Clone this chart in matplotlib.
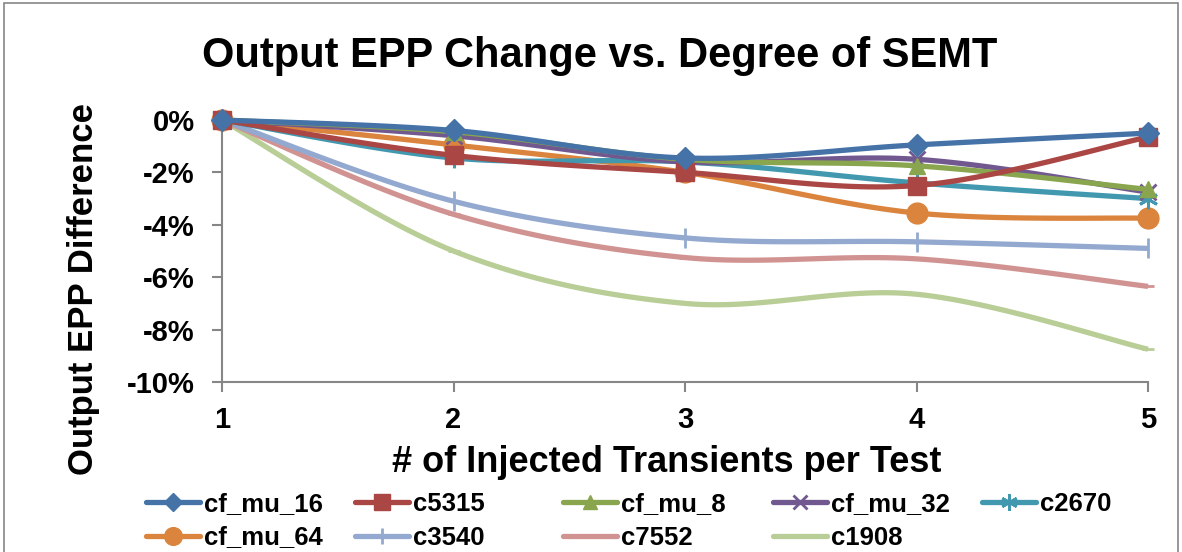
import numpy as np
import matplotlib

matplotlib.use("Agg")
import matplotlib.pyplot as plt
from matplotlib.patches import Rectangle
from matplotlib.ticker import FuncFormatter

plt.rcParams["font.family"] = ["Liberation Sans", "DejaVu Sans"]

injected = [1, 2, 3, 4, 5]
cf_mu_16 = [0.0, -0.4, -1.45, -0.95, -0.5]
c5315 = [0.0, -1.35, -2.0, -2.5, -0.65]
cf_mu_8 = [0.0, -0.45, -1.5, -1.75, -2.65]
cf_mu_32 = [0.0, -0.6, -1.6, -1.5, -2.75]
c2670 = [0.0, -1.45, -1.6, -2.4, -3.0]
cf_mu_64 = [0.0, -0.95, -2.0, -3.55, -3.75]
c3540 = [0.0, -3.1, -4.5, -4.65, -4.9]
c7552 = [0.0, -3.6, -5.25, -5.3, -6.35]
c1908 = [0.0, -5.0, -7.0, -6.65, -8.75]

series = [
    ("cf_mu_16", cf_mu_16, "#4572A7", "D", 11),
    ("c5315", c5315, "#AA4643", "s", 13),
    ("cf_mu_8", cf_mu_8, "#89A54E", "^", 12),
    ("cf_mu_32", cf_mu_32, "#71588F", "x", 12),
    ("c2670", c2670, "#4198AF", (6, 2, 0), 14),
    ("cf_mu_64", cf_mu_64, "#DB843D", "o", 15),
    ("c3540", c3540, "#93A9CF", "|", 14),
    ("c7552", c7552, "#D19392", "_", 9),
    ("c1908", c1908, "#B9CD96", "_", 9),
]

# legend layout: columns as in the Excel legend
legend_cols = [["cf_mu_16", "cf_mu_64"], ["c5315", "c3540"], ["cf_mu_8", "c7552"],
               ["cf_mu_32", "c1908"], ["c2670"]]


def smooth(xs, ys, n=30):
    # Excel-style smoothed line: cubic Bezier with Catmull-Rom control points
    xs = np.asarray(xs, float)
    ys = np.asarray(ys, float)
    px = np.concatenate([[xs[0]], xs, [xs[-1]]])
    py = np.concatenate([[ys[0]], ys, [ys[-1]]])
    out_x, out_y = [], []
    t = np.linspace(0, 1, n)
    for i in range(1, len(px) - 2):
        p0 = np.array([px[i], py[i]])
        p3 = np.array([px[i + 1], py[i + 1]])
        p1 = p0 + (np.array([px[i + 1], py[i + 1]]) - np.array([px[i - 1], py[i - 1]])) / 6
        p2 = p3 - (np.array([px[i + 2], py[i + 2]]) - np.array([px[i], py[i]])) / 6
        b = ((1 - t) ** 3)[:, None] * p0 + (3 * (1 - t) ** 2 * t)[:, None] * p1 \
            + (3 * (1 - t) * t ** 2)[:, None] * p2 + (t ** 3)[:, None] * p3
        out_x.extend(b[:, 0])
        out_y.extend(b[:, 1])
    return out_x, out_y


W, H = 1182, 552
fig = plt.figure(figsize=(W / 100, H / 100), dpi=100)
ax = fig.add_axes([222 / W, 1 - 382 / H, (1148 - 222) / W, (382 - 120) / H])

handles = {}
for z, (name, vals, color, marker, ms) in enumerate(reversed(series)):
    sx, sy = smooth(injected, vals)
    ax.plot(sx, sy, color=color, lw=3.8, solid_capstyle="butt", zorder=2 + z, clip_on=False)
    mew = 2.0 if marker in ("x", "|", "_") or isinstance(marker, tuple) else 1
    ax.plot(injected, vals, ls="none", marker=marker, ms=ms, color=color, mew=mew,
            zorder=2 + z, clip_on=False)
    handles[name] = ax.plot([], [], color=color, lw=3.8, marker=marker, ms=ms * 0.85,
                            mew=mew, solid_capstyle="round")[0]

ax.set_xlim(1, 5)
ax.set_ylim(-10, 0)
ax.set_xticks(injected)
ax.set_yticks([0, -2, -4, -6, -8, -10])
ax.yaxis.set_major_formatter(FuncFormatter(lambda v, p: f"{v:.0f}%"))
for s in ["top", "right"]:
    ax.spines[s].set_visible(False)
for s in ["left", "bottom"]:
    ax.spines[s].set_color("#868686")
    ax.spines[s].set_linewidth(1.5)
ax.tick_params(axis="both", direction="out", length=7, width=1.5, color="#868686",
               labelsize=21)
ax.tick_params(axis="y", pad=12.5)
ax.tick_params(axis="x", pad=10)
for lab in ax.get_xticklabels() + ax.get_yticklabels():
    lab.set_fontweight("bold")

fig.text(667 / W, 1 - 472 / H, "# of Injected Transients per Test", fontsize=26,
         fontweight="bold", ha="center", va="baseline")
fig.text(83.5 / W, 1 - 289 / H, "Output EPP Difference", rotation=90, fontsize=25,
         fontweight="bold", ha="center", va="center")
fig.text(600 / W, 1 - 67 / H, "Output EPP Change vs. Degree of SEMT", fontsize=30,
         fontweight="bold", ha="center", va="baseline")

col_x = [146, 355, 563, 773, 982]
for x, names in zip(col_x, legend_cols):
    leg = fig.legend([handles[n] for n in names], names, loc="upper left",
                     bbox_to_anchor=(x / W, 1 - 492 / H), frameon=False, borderpad=0,
                     borderaxespad=0, handlelength=2.1, handletextpad=0.15,
                     labelspacing=0.37, prop={"weight": "bold", "size": 18.5})

fig.add_artist(Rectangle((0.003, -0.05), 0.994, 1.044, transform=fig.transFigure,
                         fill=False, edgecolor="#868686", lw=1.2))

fig.savefig("out.png", dpi=100)
